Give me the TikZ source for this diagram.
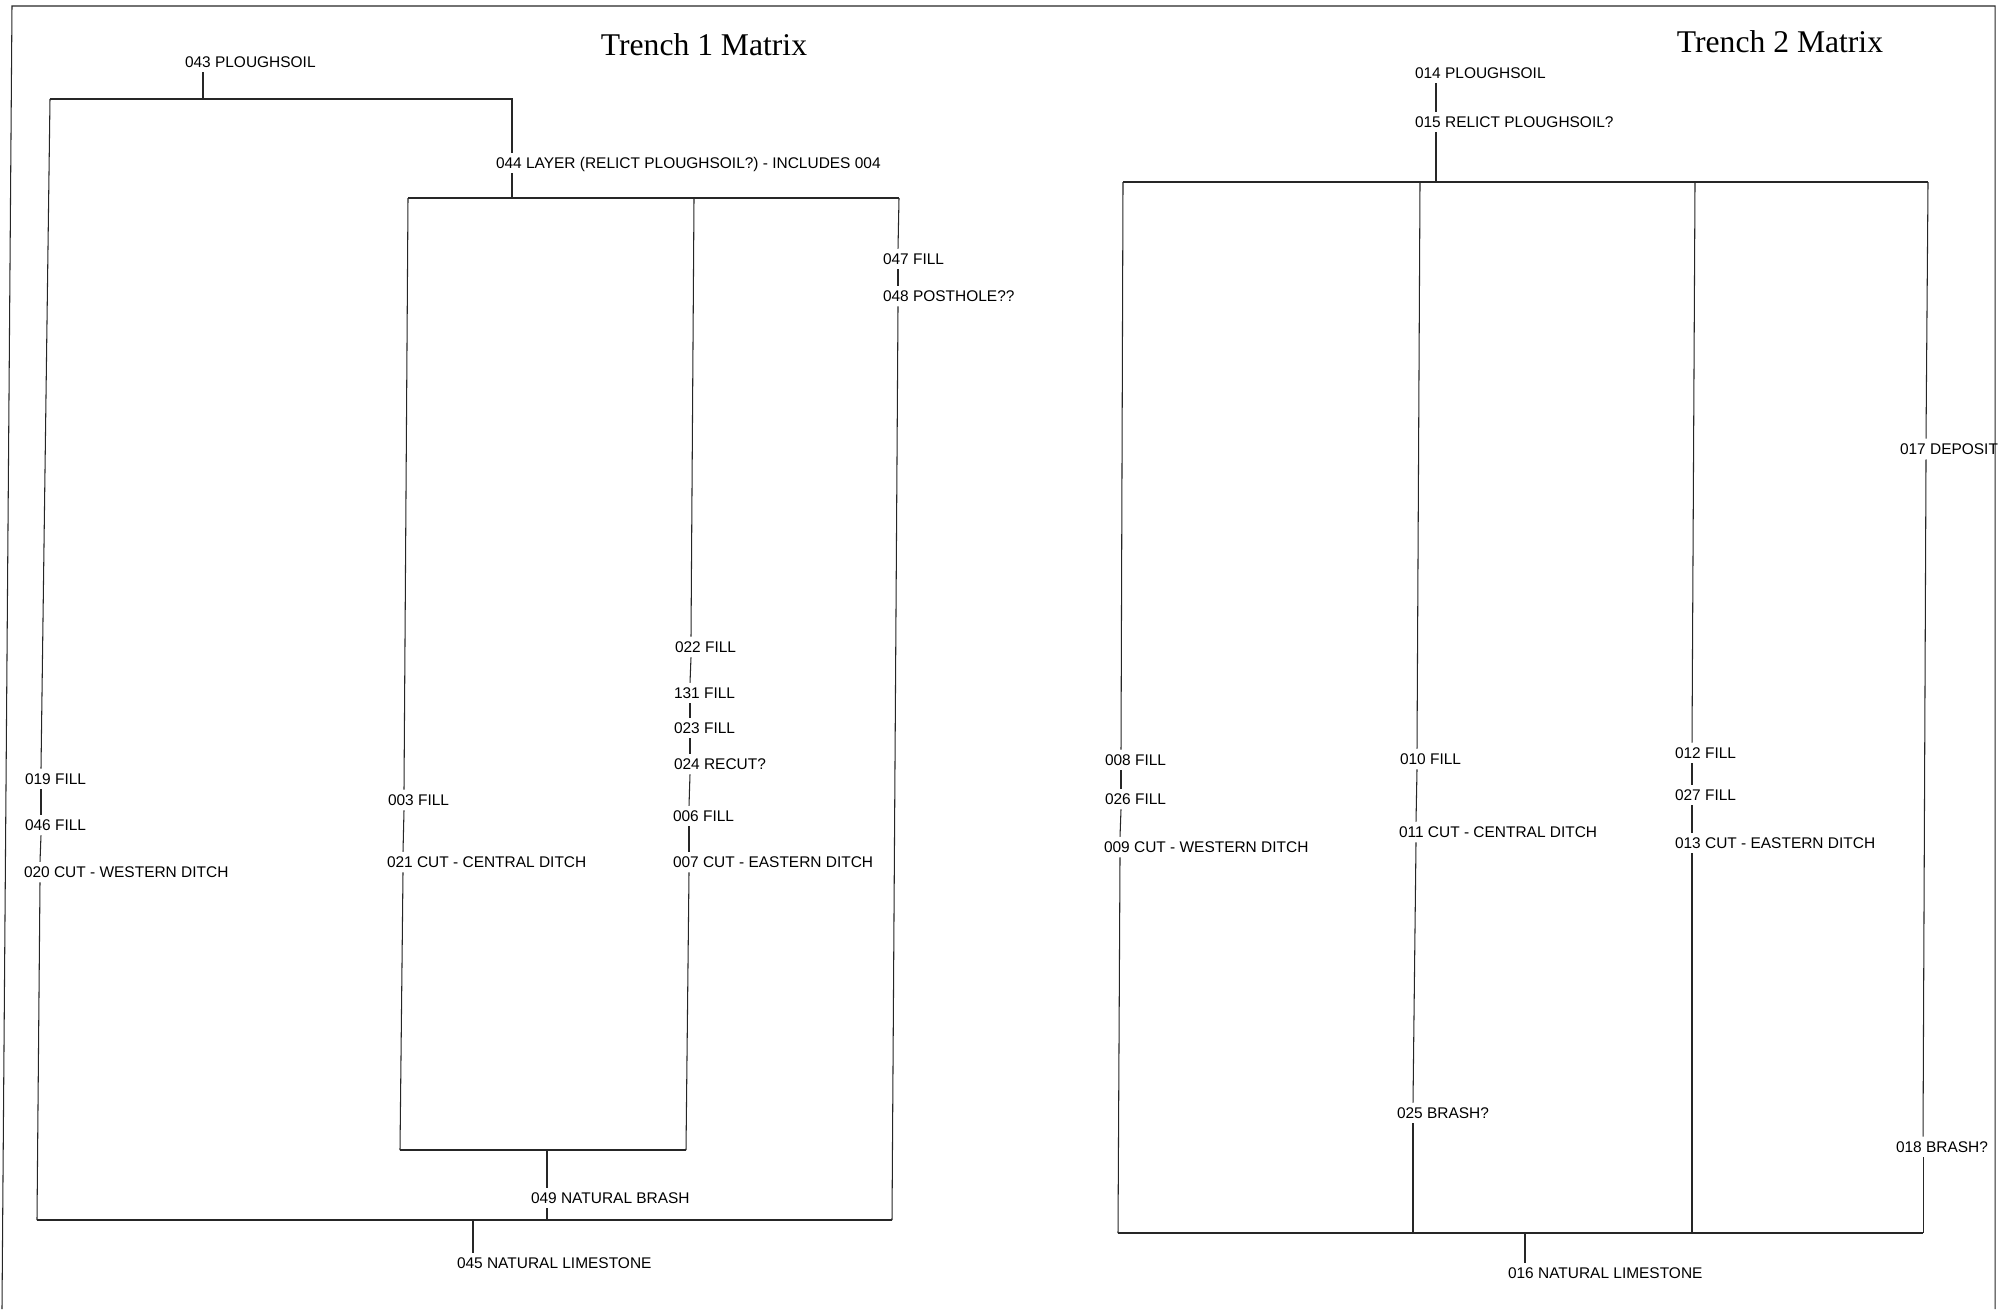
\documentclass[tikz,border=0pt]{standalone}
\usepackage{fontspec}
\setmainfont{Liberation Serif}
\setsansfont{Liberation Sans}
\usetikzlibrary{calc}

\newlength{\pxlen}
\setlength{\pxlen}{0.02cm}
%% label text hangs right of the matrix line, starting #1 px to its left
\newcommand{\hang}[2][16]{\makebox[0pt][l]{\hspace*{-#1\pxlen}#2}}

\begin{document}
\begin{tikzpicture}[
  x=0.02cm, y=-0.02cm,
  ctx/.style={inner xsep=0pt, inner ysep=2.5pt, minimum width=0pt,
    text height=6.3pt, text depth=0pt,
    font=\sffamily\fontsize{8.8}{10}\selectfont},
  heading/.style={font=\fontsize{18}{20}\selectfont},
  link/.style={line width=0.6pt, draw=black!85}
]
  \useasboundingbox (0,0) rectangle (2000,1309);

  %% page frame
  \draw[link] (2,1309) -- (12,6) -- (1995,6) -- (1995,1309);

  \node[heading] (T1) at (704,45) {Trench 1 Matrix};
  \node[heading] (T2) at (1780,42) {Trench 2 Matrix};

  %% ---------------- Trench 1 ----------------
  \node[ctx] (c043) at (203,62) {\hang[18]{043 PLOUGHSOIL}};
  \node[ctx] (c044) at (512,163) {\hang{044 LAYER (RELICT PLOUGHSOIL?) - INCLUDES 004}};

  \coordinate (o1nw) at (50,99);
  \coordinate (o1ne) at (512,99);
  \coordinate (o1sw) at (37,1220);
  \coordinate (o1se) at (892,1220);
  \coordinate (i1nw) at (408,198);
  \coordinate (i1n)  at (694,198);
  \coordinate (i1ne) at (899,198);
  \coordinate (i1sw) at (400,1150);
  \coordinate (i1s)  at (686,1150);

  %% western ditch
  \node[ctx] (c019) at (41,779) {\hang{019 FILL}};
  \node[ctx] (c046) at (41,825) {\hang{046 FILL}};
  \node[ctx] (c020) at (40,872) {\hang{020 CUT - WESTERN DITCH}};

  %% central ditch
  \node[ctx] (c003) at (404,800) {\hang{003 FILL}};
  \node[ctx] (c021) at (403,862) {\hang{021 CUT - CENTRAL DITCH}};

  %% eastern ditch
  \node[ctx] (c022) at (691,647) {\hang{022 FILL}};
  \node[ctx] (c131) at (690,693) {\hang{131 FILL}};
  \node[ctx] (c023) at (690,728) {\hang{023 FILL}};
  \node[ctx] (c024) at (690,764) {\hang{024 RECUT?}};
  \node[ctx] (c006) at (689,816) {\hang{006 FILL}};
  \node[ctx] (c007) at (689,862) {\hang{007 CUT - EASTERN DITCH}};

  %% posthole
  \node[ctx] (c047) at (898,259) {\hang[15]{047 FILL}};
  \node[ctx] (c048) at (898,296) {\hang[15]{048 POSTHOLE??}};

  \node[ctx] (c049) at (547,1198) {\hang{049 NATURAL BRASH}};
  \node[ctx] (c045) at (473,1263) {\hang{045 NATURAL LIMESTONE}};

  \draw[link] (c043.south) -- (c043.south |- o1nw);
  \draw[link] (o1nw) -- (o1ne) -- (c044.north);
  \draw[link] (c044.south) -- (c044.south |- i1nw);
  \draw[link] (i1nw) -- (i1ne);

  \draw[link] (o1nw) -- (c019.north);
  \draw[link] (c019.south) -- (c046.north);
  \draw[link] (c046.south) -- (c020.north);
  \draw[link] (c020.south) -- (o1sw);

  \draw[link] (i1nw) -- (c003.north);
  \draw[link] (c003.south) -- (c021.north);
  \draw[link] (c021.south) -- (i1sw);

  \draw[link] (i1n) -- (c022.north);
  \draw[link] (c022.south) -- (c131.north);
  \draw[link] (c131.south) -- (c023.north);
  \draw[link] (c023.south) -- (c024.north);
  \draw[link] (c024.south) -- (c006.north);
  \draw[link] (c006.south) -- (c007.north);
  \draw[link] (c007.south) -- (i1s);

  \draw[link] (i1ne) -- (c047.north);
  \draw[link] (c047.south) -- (c048.north);
  \draw[link] (c048.south) -- (o1se);

  \draw[link] (i1sw) -- (i1s);
  \draw[link] (c049.north |- i1s) -- (c049.north);
  \draw[link] (c049.south) -- (c049.south |- o1sw);
  \draw[link] (o1sw) -- (o1se);
  \draw[link] (c045.north |- o1sw) -- (c045.north);

  %% ---------------- Trench 2 ----------------
  \node[ctx] (c014) at (1436,73) {\hang[21]{014 PLOUGHSOIL}};
  \node[ctx] (c015) at (1436,122) {\hang[21]{015 RELICT PLOUGHSOIL?}};

  \coordinate (t2nw) at (1123,182);
  \coordinate (t2nb) at (1420,182);
  \coordinate (t2nc) at (1695,182);
  \coordinate (t2ne) at (1928,182);
  \coordinate (t2sw) at (1118,1233);
  \coordinate (t2sb) at (1413,1233);
  \coordinate (t2sc) at (1692,1233);
  \coordinate (t2se) at (1923,1233);

  %% western ditch
  \node[ctx] (c008) at (1121,760) {\hang{008 FILL}};
  \node[ctx] (c026) at (1121,799) {\hang{026 FILL}};
  \node[ctx] (c009) at (1120,847) {\hang{009 CUT - WESTERN DITCH}};

  %% central ditch
  \node[ctx] (c010) at (1417,759) {\hang[17]{010 FILL}};
  \node[ctx] (c011) at (1416,832) {\hang[17]{011 CUT - CENTRAL DITCH}};
  \node[ctx] (c025) at (1413,1113) {\hang{025 BRASH?}};

  %% eastern ditch
  \node[ctx] (c012) at (1692,753) {\hang[17]{012 FILL}};
  \node[ctx] (c027) at (1692,795) {\hang[17]{027 FILL}};
  \node[ctx] (c013) at (1692,843) {\hang[17]{013 CUT - EASTERN DITCH}};

  %% deposit
  \node[ctx] (c017) at (1926,449) {\hang[26]{017 DEPOSIT}};
  \node[ctx] (c018) at (1923,1147) {\hang[27]{018 BRASH?}};

  \node[ctx] (c016) at (1525,1273) {\hang[17]{016 NATURAL LIMESTONE}};

  \draw[link] (c014.south) -- (c015.north);
  \draw[link] (c015.south) -- (c015.south |- t2nw);
  \draw[link] (t2nw) -- (t2ne);

  \draw[link] (t2nw) -- (c008.north);
  \draw[link] (c008.south) -- (c026.north);
  \draw[link] (c026.south) -- (c009.north);
  \draw[link] (c009.south) -- (t2sw);

  \draw[link] (t2nb) -- (c010.north);
  \draw[link] (c010.south) -- (c011.north);
  \draw[link] (c011.south) -- (c025.north);
  \draw[link] (c025.south) -- (t2sb);

  \draw[link] (t2nc) -- (c012.north);
  \draw[link] (c012.south) -- (c027.north);
  \draw[link] (c027.south) -- (c013.north);
  \draw[link] (c013.south) -- (t2sc);

  \draw[link] (t2ne) -- (c017.north);
  \draw[link] (c017.south) -- (c018.north);
  \draw[link] (c018.south) -- (t2se);

  \draw[link] (t2sw) -- (t2se);
  \draw[link] (c016.north |- t2sw) -- (c016.north);
\end{tikzpicture}
\end{document}
